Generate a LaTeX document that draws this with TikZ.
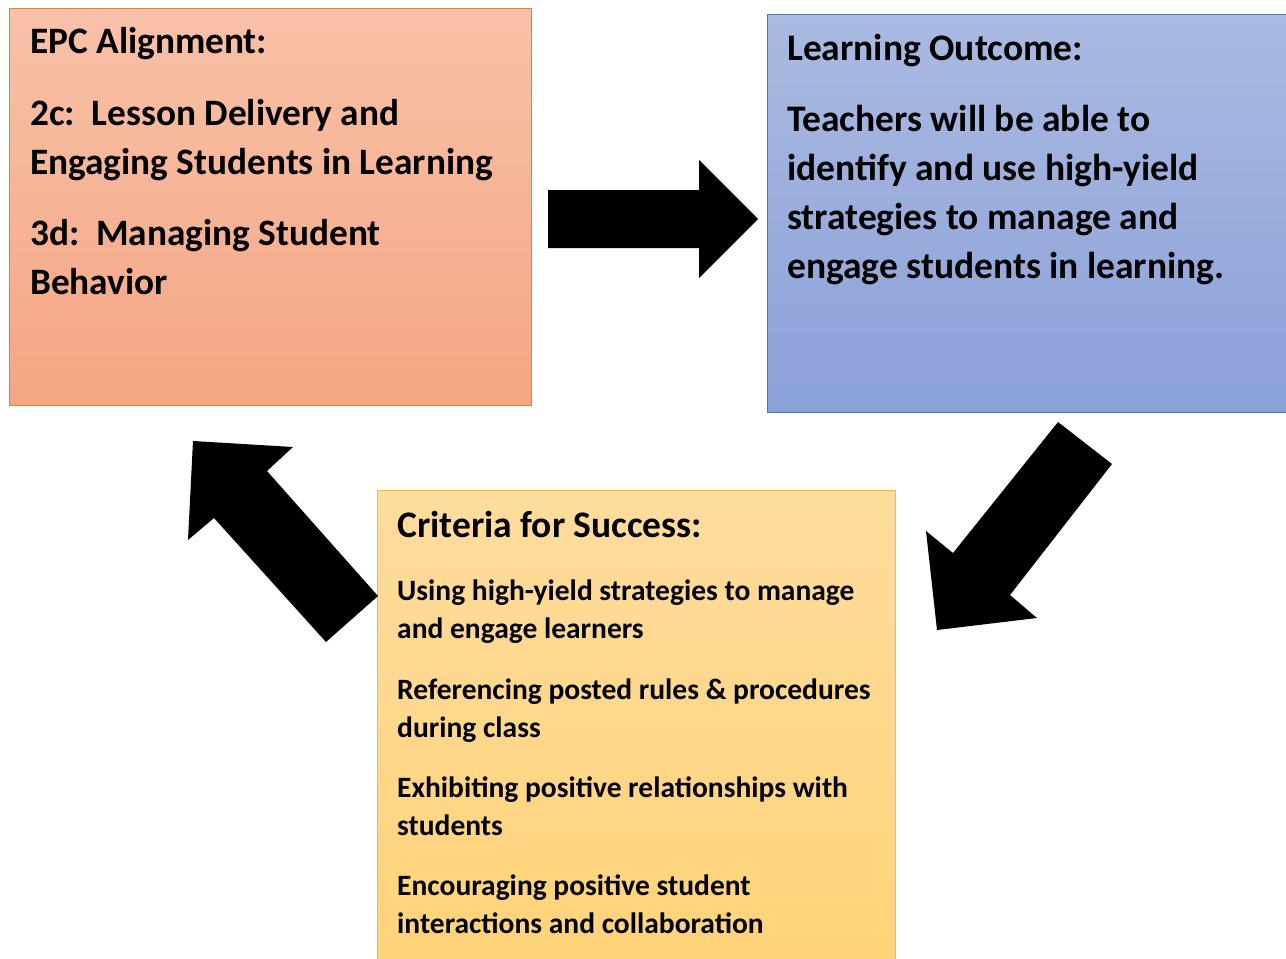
\documentclass[tikz,border=0pt]{standalone}
\usepackage{fontspec}
\setmainfont{Carlito}

\definecolor{epctop}{HTML}{F8C1A8}
\definecolor{epcbot}{HTML}{F4A683}
\definecolor{epcline}{HTML}{ED7D31}
\definecolor{loutop}{HTML}{AABAE1}
\definecolor{loubot}{HTML}{8AA1D8}
\definecolor{louline}{HTML}{4472C4}
\definecolor{crittop}{HTML}{FEDC9E}
\definecolor{critbot}{HTML}{FFD275}
\definecolor{critline}{HTML}{FFC000}

\begin{document}
\begin{tikzpicture}[x=1pt,y=-1pt]
			\tikzset{
			  BoxStyle/.style = { anchor = north west, inner sep = 0pt,
			                      line width = 1.2pt },
			  TextStyle/.style = { anchor = base west, inner sep = 0pt,
			                       align = left, font = \bfseries },
			  ArrowStyle/.style = { fill = black } }
			\useasboundingbox (0,0) rectangle (1286,959);
			\clip (0,0) rectangle (1286,959);
			% the three boxes
			\node[BoxStyle, draw = epcline, top color = epctop, bottom color = epcbot,
			      minimum width = 522pt, minimum height = 397pt] (epc) at (9,8) {};
			\node[BoxStyle, draw = louline, top color = loutop, bottom color = loubot,
			      minimum width = 518.5pt, minimum height = 398pt] (outcome) at (767,14) {};
			\node[BoxStyle, draw = critline, top color = crittop, bottom color = critbot,
			      minimum width = 518pt, minimum height = 520pt] (criteria) at (377,490) {};
			% EPC text (base = last line)
			\begin{scope}[TextStyle/.append style = {font = \bfseries\fontsize{37.3}{48.5}\selectfont}]
			\node[TextStyle] (epchead) at (30,53) {EPC Alignment:};
			\node[TextStyle] (epc2c) at (30,174) {2c:\ \ Lesson Delivery and\\Engaging Students in Learning};
			\node[TextStyle] (epc3d) at (30,294) {3d:\ \ Managing Student\\Behavior};
			\end{scope}
			% outcome text
			\begin{scope}[TextStyle/.append style = {font = \bfseries\fontsize{37.5}{49}\selectfont}]
			\node[TextStyle] (louhead) at (787,60) {Learning Outcome:};
			\node[TextStyle] (loutext) at (787,278) {Teachers will be able to\\identify and use high-yield\\strategies to manage and\\engage students in learning.};
			\end{scope}
			% criteria text
			\node[TextStyle, font = \bfseries\fontsize{37.5}{40}\selectfont] (crithead) at (397,537) {Criteria for Success:};
			\begin{scope}[TextStyle/.append style = {font = \bfseries\fontsize{29.5}{38}\selectfont}]
			\node[TextStyle] (crit1) at (397,638) {Using high-yield strategies to manage\\and engage learners};
			\node[TextStyle] (crit2) at (397,737) {Referencing posted rules \& procedures\\during class};
			\node[TextStyle] (crit3) at (397,835) {Exhibiting positive relationships with\\students};
			\node[TextStyle] (crit4) at (397,933) {Encouraging positive student\\interactions and collaboration};
			\end{scope}
			% block arrows
			\fill[ArrowStyle] (548,190) -- (699,190) -- (699,160) -- (758,219)
			                  -- (699,278) -- (699,248) -- (548,248) -- cycle;
			\fill[ArrowStyle] (1058,422) -- (1112,464) -- (1010,595) -- (1037,618)
			                  -- (937,630) -- (926,531) -- (953,553) -- cycle;
			\fill[ArrowStyle] (378,596) -- (326,642) -- (214,518) -- (188,540)
			                  -- (193,441) -- (293,447) -- (267,471) -- cycle;
		\end{tikzpicture}
\end{document}
